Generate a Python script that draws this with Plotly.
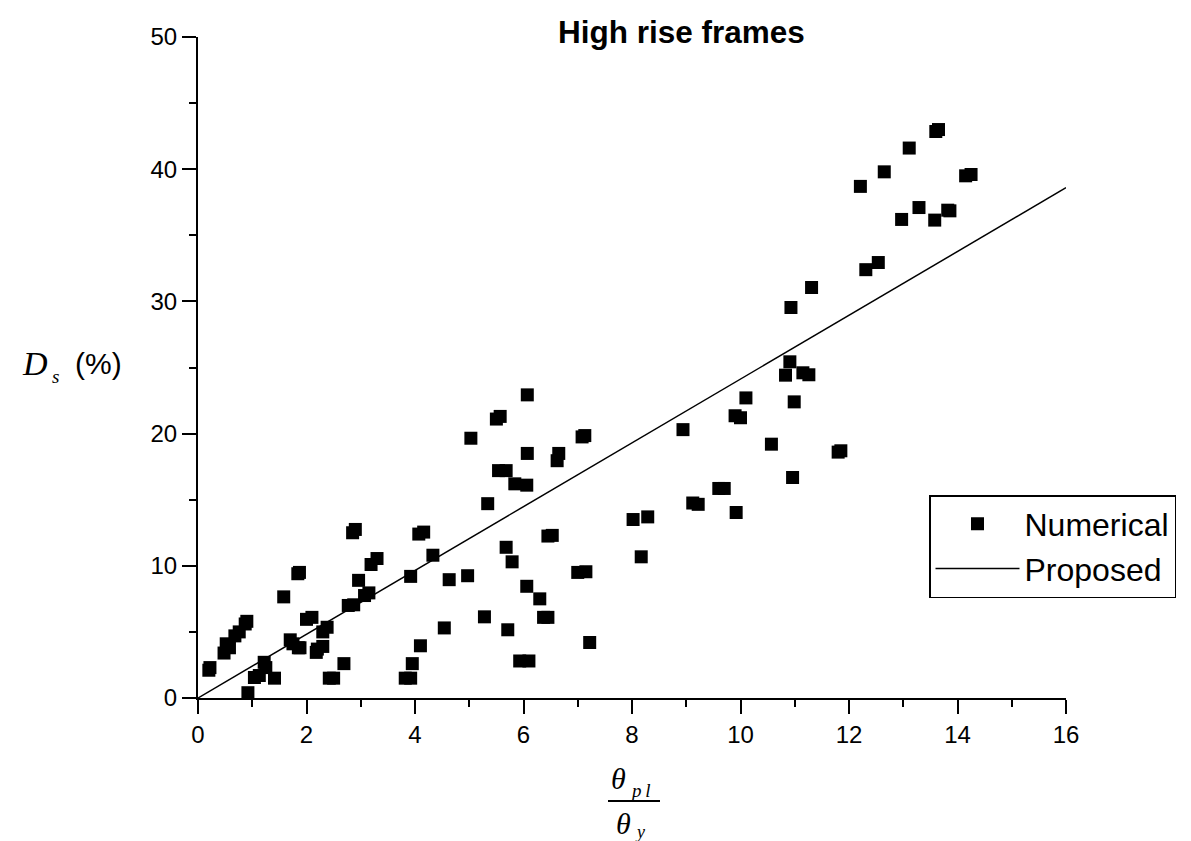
import plotly.graph_objects as go

# ---- data ----
theta_ratio = [
    0.20, 0.22, 0.48, 0.52, 0.58, 0.68, 0.76, 0.87, 0.90, 0.92,
    1.04, 1.13, 1.22, 1.25, 1.41, 1.58, 1.84, 1.87, 1.70, 1.75,
    1.85, 1.88, 2.00, 2.10, 2.18, 2.20, 2.30, 2.30, 2.38, 2.42,
    2.50, 2.69, 2.77, 2.87, 2.85, 2.90, 2.96, 3.07, 3.15, 3.19,
    3.30, 3.82, 3.92, 3.95, 3.92, 4.10, 4.07, 4.16, 4.33, 4.54,
    4.63, 4.97, 5.03, 5.28, 5.34, 5.50, 5.57, 5.54, 5.68, 5.68,
    5.71, 5.79, 5.84, 6.06, 5.93, 6.10, 6.06, 6.07, 6.07, 6.30,
    6.37, 6.45, 6.45, 6.53, 6.62, 6.65, 7.00, 7.15, 7.08, 7.13,
    7.22, 8.02, 8.17, 8.29, 8.94, 9.12, 9.22, 9.60, 9.70, 9.92,
    9.90, 10.00, 10.10, 10.57, 10.83, 10.91, 10.93, 10.96, 10.99, 11.15,
    11.26, 11.31, 11.80, 11.85, 12.21, 12.31, 12.54, 12.65, 12.97, 13.11,
    13.29, 13.58, 13.86, 13.82, 13.60, 13.65, 14.15, 14.25,
]
ds_numerical = [
    2.1, 2.3, 3.4, 4.1, 3.8, 4.7, 5.0, 5.6, 5.8, 0.4,
    1.55, 1.7, 2.7, 2.3, 1.5, 7.65, 9.4, 9.5, 4.4, 4.1,
    3.8, 3.8, 5.95, 6.1, 3.45, 3.7, 3.9, 5.0, 5.35, 1.5,
    1.5, 2.6, 7.0, 7.05, 12.5, 12.75, 8.9, 7.75, 7.95, 10.1,
    10.55, 1.5, 1.5, 2.6, 9.2, 3.95, 12.4, 12.55, 10.8, 5.3,
    8.95, 9.25, 19.65, 6.14, 14.7, 21.1, 21.3, 17.2, 17.2, 11.4,
    5.16, 10.3, 16.2, 16.1, 2.8, 2.8, 8.45, 18.5, 22.93, 7.5,
    6.1, 6.1, 12.25, 12.3, 17.95, 18.5, 9.5, 9.55, 19.75, 19.85,
    4.2, 13.5, 10.68, 13.7, 20.3, 14.75, 14.65, 15.85, 15.85, 14.03,
    21.35, 21.2, 22.7, 19.2, 24.42, 25.43, 29.54, 16.68, 22.4, 24.6,
    24.45, 31.05, 18.6, 18.7, 38.7, 32.4, 32.94, 39.8, 36.2, 41.6,
    37.1, 36.15, 36.85, 36.9, 42.85, 43.0, 39.5, 39.6,
]
proposed_x = [0, 16]
proposed_y = [0, 38.6]

x_range = [0, 16]
y_range = [0, 50]
x_tick_vals = [0, 2, 4, 6, 8, 10, 12, 14, 16]
y_tick_vals = [0, 10, 20, 30, 40, 50]

# ---- geometry helpers (pixel -> paper) ----
W, H = 1191, 841
ML, MR, MT, MB = 190, 133, 29, 151
PW, PH = W - ML - MR, H - MT - MB


def px(x):
    return (x - ML) / PW


def py(y):
    return (H - MB - y) / PH


SANS = "Liberation Sans, Arial, sans-serif"
SERIF = "Liberation Serif, Times New Roman, serif"

fig = go.Figure()
fig.add_trace(go.Scatter(
    x=theta_ratio, y=ds_numerical, mode="markers", name="Numerical",
    marker=dict(symbol="square", size=13, color="black", line=dict(width=0)),
    cliponaxis=False,
))
fig.add_trace(go.Scatter(
    x=proposed_x, y=proposed_y, mode="lines", name="Proposed",
    line=dict(color="black", width=1.5),
    cliponaxis=False,
))

axis_common = dict(
    showline=True, linecolor="black", linewidth=2,
    ticks="outside", ticklen=14, tickwidth=2, tickcolor="black",
    showgrid=False, zeroline=False,
    tickfont=dict(family=SANS, size=24, color="black"),
)
fig.update_xaxes(range=x_range, tickvals=x_tick_vals,
                 minor=dict(ticks="outside", ticklen=7, tickwidth=2, tickcolor="black", dtick=1, showgrid=False),
                 **axis_common)
fig.update_yaxes(range=y_range, tickvals=y_tick_vals,
                 minor=dict(ticks="outside", ticklen=7, tickwidth=2, tickcolor="black", dtick=5, showgrid=False),
                 **axis_common)

annotations = [
    dict(text="<b>High rise frames</b>", x=px(673), y=py(24),
         font=dict(family=SANS, size=31.5, color="black")),
    dict(text="<i>D</i>", x=px(27), y=py(355), font=dict(family=SERIF, size=34, color="black")),
    dict(text="<i>s</i>", x=px(47.5), y=py(369), font=dict(family=SERIF, size=19, color="black")),
    dict(text="(%)", x=px(90), y=py(355), font=dict(family=SANS, size=30, color="black")),
    dict(text="<i>θ</i>", x=px(610), y=py(770), font=dict(family=SERIF, size=30, color="black")),
    dict(text="<i>p\u2009l</i>", x=px(632), y=py(782), font=dict(family=SERIF, size=19, color="black")),
    dict(text="<i>θ</i>", x=px(615), y=py(815), font=dict(family=SERIF, size=30, color="black")),
    dict(text="<i>y</i>", x=px(632), y=py(824), font=dict(family=SERIF, size=18, color="black")),
]
for a in annotations:
    a.update(xref="paper", yref="paper", showarrow=False, xanchor="center", yanchor="middle")

fig.update_layout(
    width=W, height=H,
    margin=dict(l=ML, r=MR, t=MT, b=MB, pad=0),
    paper_bgcolor="white", plot_bgcolor="white",
    annotations=annotations,
    shapes=[dict(type="line", xref="paper", yref="paper",
                 x0=px(600), x1=px(652), y0=py(793), y1=py(793),
                 line=dict(color="black", width=2))],
    legend=dict(
        x=px(921), y=py(487), xanchor="left", yanchor="top",
        bgcolor="white", bordercolor="black", borderwidth=1.5,
        font=dict(family=SANS, size=32, color="black"),
        itemwidth=84, tracegroupgap=0,
    ),
    showlegend=True,
)

fig.write_html("out.html")
